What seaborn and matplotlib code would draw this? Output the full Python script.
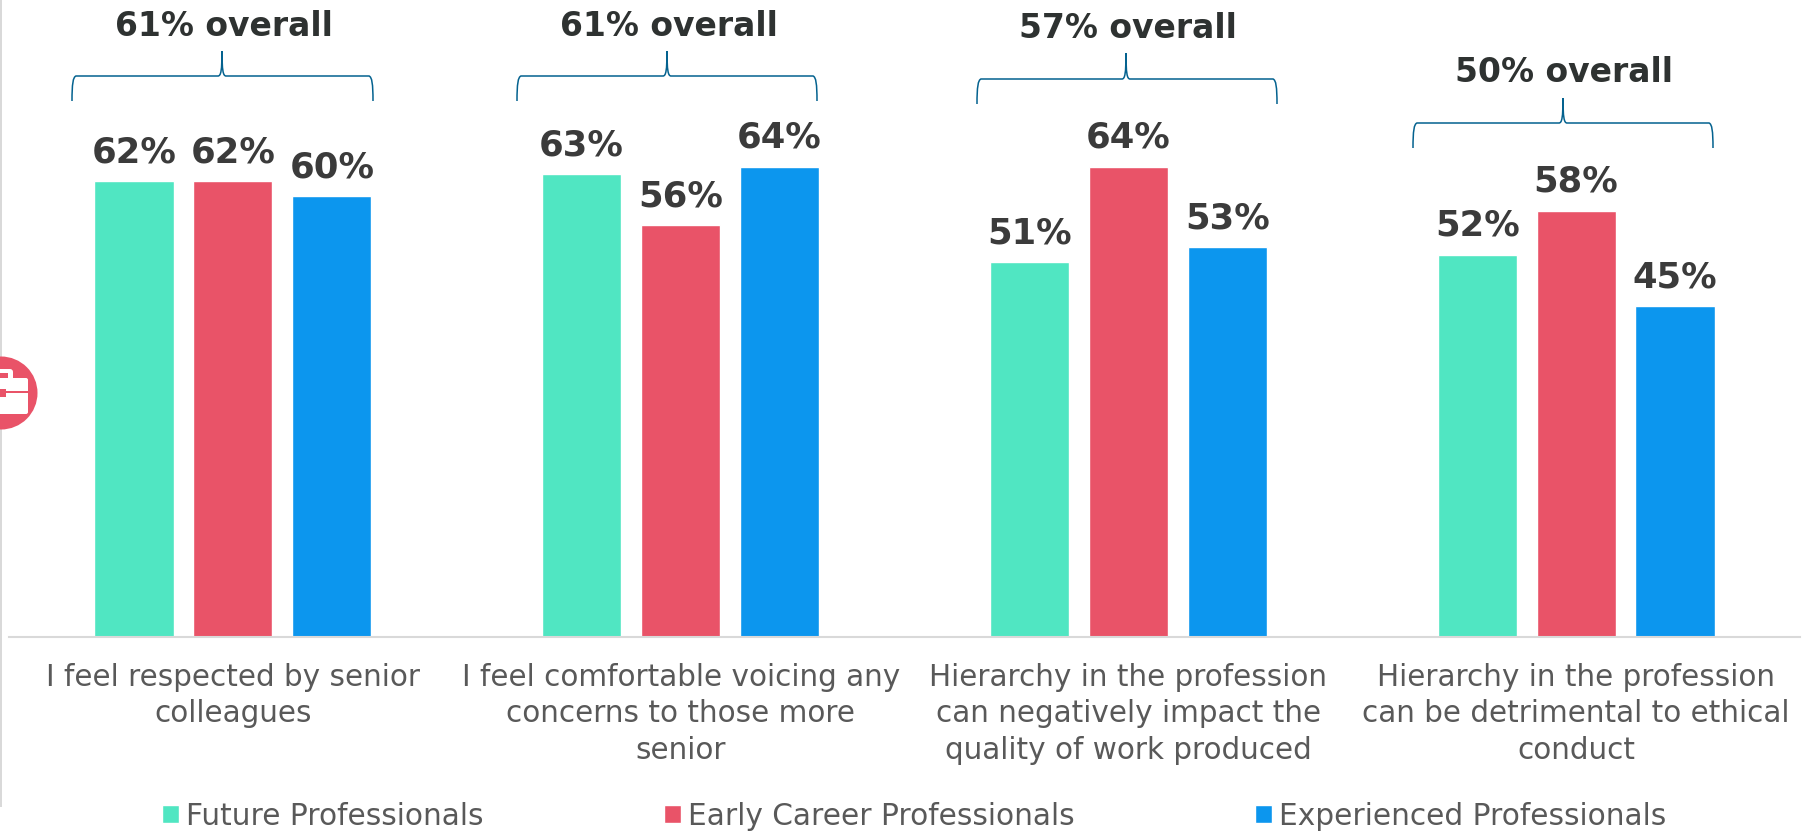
import matplotlib
matplotlib.use("Agg")
import matplotlib.pyplot as plt
import pandas as pd
import seaborn as sns
from matplotlib.patches import Circle, FancyBboxPatch, PathPatch, Rectangle
from matplotlib.path import Path

# Survey results, percent agreeing
statements = [
    "I feel respected by senior\ncolleagues",
    "I feel comfortable voicing any\nconcerns to those more\nsenior",
    "Hierarchy in the profession\ncan negatively impact the\nquality of work produced",
    "Hierarchy in the profession\ncan be detrimental to ethical\nconduct",
]
groups = ["Future Professionals", "Early Career Professionals", "Experienced Professionals"]
future = [62, 63, 51, 52]
early_career = [62, 56, 64, 58]
experienced = [60, 64, 53, 45]
overall = [61, 61, 57, 50]
colours = ["#50E6C2", "#E95368", "#0C96EE"]

W, H = 1813, 831
BASE_Y = 637
PX_PER_PCT = 7.35

sns.set_theme(style="white")
plt.rcParams["font.family"] = ["DejaVu Sans"]

df = pd.DataFrame({
    "statement": statements * 3,
    "group": [g for g in groups for _ in statements],
    "value": future + early_career + experienced,
})

fig = plt.figure(figsize=(W / 100, H / 100), dpi=100, facecolor="white")
ax = fig.add_axes([9 / W, (H - BASE_Y) / H, 1791 / W, BASE_Y / H])
sns.barplot(data=df, x="statement", y="value", hue="group", hue_order=groups,
            palette=colours, width=0.663, gap=0.2, saturation=1, ax=ax)
ax.set_ylim(0, BASE_Y / PX_PER_PCT)
ax.set_xlim(-0.5, 3.5)
ax.set_xlabel("")
ax.set_ylabel("")
ax.set_yticks([])
ax.tick_params(axis="x", length=0, pad=18.5, labelsize=21.25, labelcolor="#595959")
for tick in ax.get_xticklabels():
    tick.set_linespacing(1.33)
for side in ("top", "left", "right"):
    ax.spines[side].set_visible(False)
ax.spines["bottom"].set_color("#D9D9D9")
ax.spines["bottom"].set_linewidth(1.5)
ax.patch.set_alpha(0)

for bars in ax.containers:
    ax.bar_label(bars, fmt="%d%%", padding=8.5, fontsize=25.5, fontweight="bold", color="#3B3B3B")

ax.legend(loc="lower left", bbox_to_anchor=(152 / W, -10 / H), bbox_transform=fig.transFigure,
          ncol=3, frameon=False, fontsize=21.3, labelcolor="#595959",
          handlelength=0.573, handleheight=0.573, handletextpad=0.24, columnspacing=6.09,
          borderpad=0, borderaxespad=0.35)

# Pixel-based overlay for the braces, headline figures and the side badge
overlay = fig.add_axes([0, 0, 1, 1], zorder=5)
overlay.set_xlim(0, W)
overlay.set_ylim(H, 0)
overlay.axis("off")
overlay.patch.set_alpha(0)


def brace(left, right, tip, top, mid, bottom, colour="#04628F"):
    c = 4
    verts = [
        (left, bottom), (left, mid + 8), (left + 1, mid + 1), (left + c, mid),
        (tip - c, mid), (tip - 1, mid), (tip, mid - 6), (tip, top),
        (tip, mid - 6), (tip + 1, mid), (tip + c, mid),
        (right - c, mid), (right - 1, mid + 1), (right, mid + 8), (right, bottom),
    ]
    codes = [Path.MOVETO, Path.CURVE4, Path.CURVE4, Path.CURVE4,
             Path.LINETO, Path.CURVE4, Path.CURVE4, Path.CURVE4,
             Path.CURVE4, Path.CURVE4, Path.CURVE4,
             Path.LINETO, Path.CURVE4, Path.CURVE4, Path.CURVE4]
    overlay.add_patch(PathPatch(Path(verts, codes), fill=False, edgecolor=colour, lw=1.1))


brace_layout = [
    (72, 373, 222, 51, 76, 101, 224, 26),
    (517, 817, 667, 51, 76, 101, 669, 26),
    (977, 1277, 1126, 53, 79, 104, 1128, 28),
    (1413, 1713, 1563, 98, 123, 148, 1564, 73),
]
for value, (l, r, tip, top, mid, bot, tx, ty) in zip(overall, brace_layout):
    brace(l, r, tip, top, mid, bot)
    overlay.text(tx, ty, f"{value}% overall", ha="center", va="center",
                 fontsize=23.8, fontweight="bold", color="#2E3231")

# Thin rule down the left edge
overlay.add_patch(Rectangle((0, 0), 1.5, 807, facecolor="#D9D9D9", edgecolor="none"))

# Briefcase badge, cropped by the figure edge
pink = colours[1]
overlay.add_patch(Circle((1, 393), 36.5, facecolor=pink, edgecolor="none"))
overlay.add_patch(FancyBboxPatch((-22, 369), 35, 14, boxstyle="round,pad=0,rounding_size=3",
                                 facecolor="white", edgecolor="none"))
overlay.add_patch(Rectangle((-20, 373), 28, 6, facecolor=pink, edgecolor="none"))
overlay.add_patch(FancyBboxPatch((-26, 378), 54, 36, boxstyle="round,pad=0,rounding_size=2",
                                 facecolor="white", edgecolor="none"))
overlay.add_patch(Rectangle((-26, 391), 54, 2.2, facecolor=pink, edgecolor="none"))
overlay.add_patch(Rectangle((-6, 389), 12, 8, facecolor=pink, edgecolor="none"))

fig.savefig("out.png", dpi=100, facecolor="white")
